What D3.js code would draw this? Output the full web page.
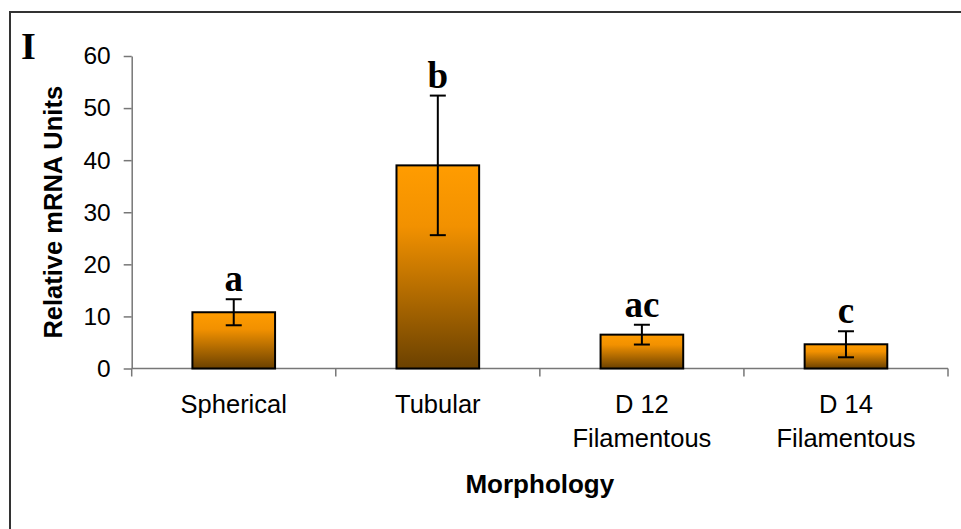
<!DOCTYPE html>
<html>
<head>
<meta charset="utf-8">
<script src="https://cdn.jsdelivr.net/npm/d3@7"></script>
<style>
  html, body { margin: 0; padding: 0; background: #fff; }
  svg { display: block; }
</style>
</head>
<body>
<svg id="chart" width="961" height="529"></svg>
<script>
const categories = [["Spherical"], ["Tubular"], ["D 12", "Filamentous"], ["D 14", "Filamentous"]];
const values = [10.8, 39.0, 6.5, 4.65];
const errors = [2.5, 13.4, 1.9, 2.5];
const letters = ["a", "b", "ac", "c"];
const yTicks = [0, 10, 20, 30, 40, 50, 60];

(function () {
const svg = d3.select("#chart");
const pLeft = 131.7, pRight = 948, pTop = 56, pBottom = 368.5;

// frame
svg.append("rect").attr("x", 10).attr("y", 12).attr("width", 980).attr("height", 560)
  .attr("fill", "none").attr("stroke", "#333").attr("stroke-width", 2);

svg.append("text").attr("x", 21).attr("y", 59)
  .attr("font-family", "Liberation Serif, Times New Roman, serif").attr("font-weight", "bold")
  .attr("font-size", 38).attr("fill", "#000").text("I");

const ids = categories.map((d, i) => "c" + i);
const x = d3.scaleBand().domain(ids).range([pLeft, pRight]).paddingInner(0).paddingOuter(0);
const y = d3.scaleLinear().domain([0, 60]).range([pBottom, pTop]);

// gradient
const defs = svg.append("defs");
const grad = defs.append("linearGradient").attr("id", "barGrad")
  .attr("x1", 0).attr("y1", 0).attr("x2", 0).attr("y2", 1);
grad.append("stop").attr("offset", "0%").attr("stop-color", "#FF9C00");
grad.append("stop").attr("offset", "30%").attr("stop-color", "#F29100");
grad.append("stop").attr("offset", "100%").attr("stop-color", "#6B4100");

// y axis
const yAxis = svg.append("g").attr("transform", `translate(${pLeft},0)`)
  .call(d3.axisLeft(y).tickValues(yTicks).tickSize(8).tickPadding(13).tickSizeOuter(0));
yAxis.select(".domain").attr("stroke", "#777").attr("stroke-width", 1.5);
yAxis.selectAll(".tick line").attr("stroke", "#777").attr("stroke-width", 1.5);
yAxis.selectAll(".tick text").attr("font-family", "Liberation Sans, Arial, sans-serif")
  .attr("font-size", 24.5).attr("fill", "#000");

// x axis line and boundary ticks
const xg = svg.append("g");
xg.append("line").attr("x1", pLeft).attr("x2", pRight).attr("y1", y(0)).attr("y2", y(0))
  .attr("stroke", "#777").attr("stroke-width", 1.5);
const bounds = ids.map(id => x(id)).concat([x(ids[ids.length - 1]) + x.bandwidth()]);
xg.selectAll("line.bt").data(bounds).join("line").attr("class", "bt")
  .attr("x1", d => d).attr("x2", d => d).attr("y1", y(0)).attr("y2", y(0) + 8)
  .attr("stroke", "#777").attr("stroke-width", 1.5);

// category labels
categories.forEach((lines, i) => {
  const t = svg.append("text").attr("x", x(ids[i]) + x.bandwidth() / 2).attr("y", 413)
    .attr("text-anchor", "middle").attr("font-family", "Liberation Sans, Arial, sans-serif")
    .attr("font-size", 25.5).attr("fill", "#000");
  lines.forEach((l, j) => t.append("tspan").attr("x", x(ids[i]) + x.bandwidth() / 2)
    .attr("dy", j === 0 ? 0 : 34).text(l));
});

// bars
const bw = x.bandwidth() * 0.405;
svg.selectAll("rect.bar").data(values).join("rect").attr("class", "bar")
  .attr("x", (d, i) => x(ids[i]) + x.bandwidth() / 2 - bw / 2)
  .attr("y", d => y(d)).attr("width", bw).attr("height", d => y(0) - y(d))
  .attr("fill", "url(#barGrad)").attr("stroke", "#000").attr("stroke-width", 2);

// error bars
const eg = svg.append("g").attr("stroke", "#000").attr("stroke-width", 2);
values.forEach((v, i) => {
  const cx = x(ids[i]) + x.bandwidth() / 2;
  eg.append("line").attr("x1", cx).attr("x2", cx).attr("y1", y(v + errors[i])).attr("y2", y(v - errors[i]));
  [v + errors[i], v - errors[i]].forEach(e =>
    eg.append("line").attr("x1", cx - 8).attr("x2", cx + 8).attr("y1", y(e)).attr("y2", y(e)));
});

// significance letters
svg.selectAll("text.sig").data(letters).join("text").attr("class", "sig")
  .attr("x", (d, i) => x(ids[i]) + x.bandwidth() / 2)
  .attr("y", (d, i) => y(values[i] + errors[i]) - 8)
  .attr("text-anchor", "middle").attr("font-family", "Liberation Serif, Times New Roman, serif")
  .attr("font-weight", "bold").attr("font-size", 37).attr("fill", "#000").text(d => d);

// axis titles
svg.append("text").attr("x", (pLeft + pRight) / 2).attr("y", 493).attr("text-anchor", "middle")
  .attr("font-family", "Liberation Sans, Arial, sans-serif").attr("font-weight", "bold")
  .attr("font-size", 26).attr("fill", "#000").text("Morphology");
svg.append("text").attr("transform", `translate(62,${(pTop + pBottom) / 2}) rotate(-90)`)
  .attr("text-anchor", "middle").attr("font-family", "Liberation Sans, Arial, sans-serif")
  .attr("font-weight", "bold").attr("font-size", 25.5).attr("fill", "#000").text("Relative mRNA Units");
})();
</script>
</body>
</html>
